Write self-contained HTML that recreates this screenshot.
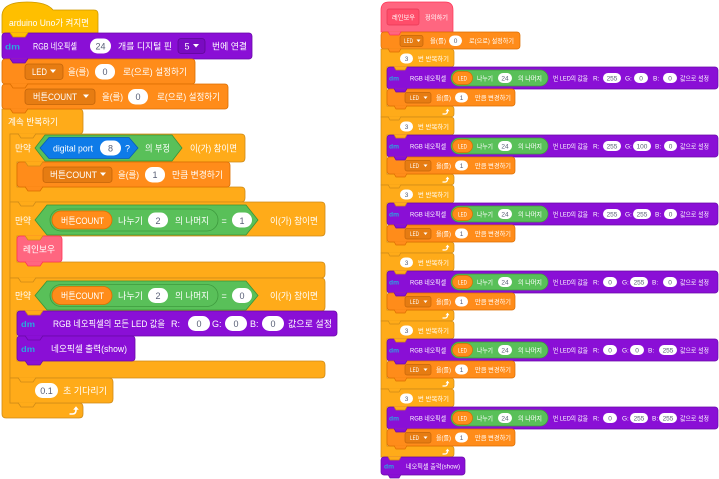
<!DOCTYPE html>
<html><head><meta charset="utf-8">
<style>
html,body{margin:0;padding:0;background:#fff;}
svg{display:block}
text{font-family:"Liberation Sans","Noto Sans CJK KR",sans-serif;fill:#fff;}
.L{font-size:9px}
.R{font-size:6.5px}
.n{fill:#575E75;text-anchor:middle}
.ic{fill:#2aa6de;font-weight:bold}
</style></head><body>
<svg width="719" height="479" viewBox="0 0 719 479" xmlns="http://www.w3.org/2000/svg">
<!-- ================= LEFT BODIES ================= -->
<g stroke-width="0.8">
<path d="M2,109 H79 q4,0 4,4 V130 q0,4 -4,4 H10 V403 H79 q4,0 4,4 V414 q0,4 -4,4 H6 q-4,0 -4,-4 Z" fill="#FFAB19" stroke="#CF8B17"/>
<path d="M10,134 H241 q4,0 4,4 V158 q0,4 -4,4 H17 V187 H241 q4,0 4,4 V198 q0,4 -4,4 H10 Z" fill="#FFAB19" stroke="#CF8B17"/>
<path d="M10,202 H321 q4,0 4,4 V232 q0,4 -4,4 H17 V262 H321 q4,0 4,4 V274 q0,4 -4,4 H10 Z" fill="#FFAB19" stroke="#CF8B17"/>
<path d="M10,278 H321 q4,0 4,4 V307 q0,4 -4,4 H17 V361 H321 q4,0 4,4 V374 q0,4 -4,4 H10 Z" fill="#FFAB19" stroke="#CF8B17"/>
<path d="M10,378 H109 q4,0 4,4 V399 q0,4 -4,4 H10 Z" fill="#FFAB19" stroke="#CF8B17"/>
<path d="M2,33 V16 Q2,2 27,2 Q47,2 53,10 H94 Q98,10 98,14 V33 Z" fill="#FFBF00" stroke="#CC9900"/>
<rect x="2" y="33" width="250" height="26" rx="3" fill="#8A0FD6" stroke="#6A0AA8"/>
<rect x="2" y="59" width="193" height="25" rx="3" fill="#FF8C1A" stroke="#DB6E00"/>
<rect x="2" y="84" width="226" height="25" rx="3" fill="#FF8C1A" stroke="#DB6E00"/>
<rect x="17" y="162" width="213" height="25" rx="3" fill="#FF8C1A" stroke="#DB6E00"/>
<rect x="17" y="236" width="45" height="26" rx="3" fill="#FF6680" stroke="#FF3355"/>
<rect x="17" y="311" width="320" height="25" rx="3" fill="#8A0FD6" stroke="#6A0AA8"/>
<rect x="17" y="336" width="118" height="25" rx="3" fill="#8A0FD6" stroke="#6A0AA8"/>
</g>

<!-- ================= RIGHT BODIES ================= -->
<g stroke-width="0.7">
<path d="M381,32 V10 Q381,2 389,2 H445 Q453,2 453,10 V32 Z" fill="#FF6680" stroke="#FF3355"/>
<rect x="381" y="32" width="139" height="17" rx="3" fill="#FF8C1A" stroke="#DB6E00"/>
<g id="gb">
<path d="M381,49 H450 q4,0 4,3 V64 q0,3 -4,3 H387 V106 H450 q4,0 4,3 V114 q0,3 -4,3 H381 Z" fill="#FFAB19" stroke="#CF8B17"/>
<rect x="387" y="67" width="331" height="22" rx="3" fill="#8A0FD6" stroke="#6A0AA8"/>
<rect x="387" y="89" width="128" height="17" rx="3" fill="#FF8C1A" stroke="#DB6E00"/>
</g>
<use href="#gb" transform="translate(0,68)"/>
<use href="#gb" transform="translate(0,136)"/>
<use href="#gb" transform="translate(0,204)"/>
<use href="#gb" transform="translate(0,272)"/>
<use href="#gb" transform="translate(0,340)"/>
<rect x="381" y="457" width="84" height="18" rx="3" fill="#8A0FD6" stroke="#6A0AA8"/>
</g>

<!-- ================= BUMPS ================= -->
<g stroke-width="0.8">
<path d="M10,32.6 l3,4.4 h12 l3,-4.4" fill="#FFBF00" stroke="#CC9900"/>
<path d="M10,58.6 l3,4.4 h12 l3,-4.4" fill="#8A0FD6" stroke="#6A0AA8"/>
<path d="M10,83.6 l3,4.4 h12 l3,-4.4" fill="#FF8C1A" stroke="#DB6E00"/>
<path d="M10,108.6 l3,4.4 h12 l3,-4.4" fill="#FF8C1A" stroke="#DB6E00"/>
<path d="M18,133.6 l3,4.4 h12 l3,-4.4" fill="#FFAB19" stroke="#CF8B17"/>
<path d="M25,161.6 l3,4.4 h12 l3,-4.4" fill="#FFAB19" stroke="#CF8B17"/>
<path d="M25,186.6 l3,4.4 h12 l3,-4.4" fill="#FF8C1A" stroke="#DB6E00"/>
<path d="M18,201.6 l3,4.4 h12 l3,-4.4" fill="#FFAB19" stroke="#CF8B17"/>
<path d="M25,235.6 l3,4.4 h12 l3,-4.4" fill="#FFAB19" stroke="#CF8B17"/>
<path d="M25,261.6 l3,4.4 h12 l3,-4.4" fill="#FF6680" stroke="#FF3355"/>
<path d="M18,277.6 l3,4.4 h12 l3,-4.4" fill="#FFAB19" stroke="#CF8B17"/>
<path d="M25,310.6 l3,4.4 h12 l3,-4.4" fill="#FFAB19" stroke="#CF8B17"/>
<path d="M25,335.6 l3,4.4 h12 l3,-4.4" fill="#8A0FD6" stroke="#6A0AA8"/>
<path d="M25,360.6 l3,4.4 h12 l3,-4.4" fill="#8A0FD6" stroke="#6A0AA8"/>
<path d="M18,377.6 l3,4.4 h12 l3,-4.4" fill="#FFAB19" stroke="#CF8B17"/>
<path d="M18,402.6 l3,4.4 h12 l3,-4.4" fill="#FFAB19" stroke="#CF8B17"/>
</g>
<g stroke-width="0.7">
<path d="M388,31.6 l2,3.4 h9 l2,-3.4" fill="#FF6680" stroke="#FF3355"/>
<path d="M388,48.6 l2,3.4 h9 l2,-3.4" fill="#FF8C1A" stroke="#DB6E00"/>
<g id="gbump">
<path d="M394,66.6 l2,3.4 h9 l2,-3.4" fill="#FFAB19" stroke="#CF8B17"/>
<path d="M394,88.6 l2,3.4 h9 l2,-3.4" fill="#8A0FD6" stroke="#6A0AA8"/>
<path d="M394,105.6 l2,3.4 h9 l2,-3.4" fill="#FF8C1A" stroke="#DB6E00"/>
<path d="M388,116.6 l2,3.4 h9 l2,-3.4" fill="#FFAB19" stroke="#CF8B17"/>
</g>
<use href="#gbump" transform="translate(0,68)"/>
<use href="#gbump" transform="translate(0,136)"/>
<use href="#gbump" transform="translate(0,204)"/>
<use href="#gbump" transform="translate(0,272)"/>
<use href="#gbump" transform="translate(0,340)"/>
<path d="M388,474.6 l2,3.4 h9 l2,-3.4" fill="#8A0FD6" stroke="#6A0AA8"/>
</g>

<!-- ================= LEFT CONTENTS ================= -->
<text class="L" x="9" y="26" textLength="80" lengthAdjust="spacingAndGlyphs">arduino Uno가 켜지면</text>

<!-- connect -->
<text class="ic" x="5" y="49.5" font-size="8.5" textLength="15" lengthAdjust="spacingAndGlyphs">dm</text>
<text class="L" x="33" y="49.5" textLength="44" lengthAdjust="spacingAndGlyphs">RGB 네오픽셀</text>
<rect x="90" y="38.5" width="21" height="15" rx="7.5" fill="#fff"/>
<text class="L n" x="100.5" y="49.5">24</text>
<text class="L" x="118" y="49.5" textLength="54" lengthAdjust="spacingAndGlyphs">개를 디지털 핀</text>
<rect x="178" y="38.5" width="27" height="15" rx="3" fill="#7A0BC2" stroke="#5E0896" stroke-width="0.8"/>
<text class="L" x="184.5" y="49.5">5</text>
<path d="M193,44 h6 l-3,3.5 Z" fill="#fff"/>
<text class="L" x="212" y="49.5" textLength="35" lengthAdjust="spacingAndGlyphs">번에 연결</text>

<!-- set LED -->
<rect x="25" y="64" width="38" height="15.5" rx="3" fill="#E67C12" stroke="#C4650A" stroke-width="0.8"/>
<text class="L" x="32" y="75" textLength="15" lengthAdjust="spacingAndGlyphs">LED</text>
<path d="M50,69.5 h6 l-3,3.5 Z" fill="#fff"/>
<text class="L" x="68" y="75" textLength="21" lengthAdjust="spacingAndGlyphs">을(를)</text>
<rect x="95" y="64" width="20" height="15.5" rx="7.5" fill="#fff"/>
<text class="L n" x="105" y="75">0</text>
<text class="L" x="123" y="75" textLength="64" lengthAdjust="spacingAndGlyphs">로(으로) 설정하기</text>

<!-- set button -->
<rect x="25" y="89" width="70" height="15.5" rx="3" fill="#E67C12" stroke="#C4650A" stroke-width="0.8"/>
<text class="L" x="33" y="100" textLength="44" lengthAdjust="spacingAndGlyphs">버튼COUNT</text>
<path d="M83,94.5 h6 l-3,3.5 Z" fill="#fff"/>
<text class="L" x="102" y="100" textLength="21" lengthAdjust="spacingAndGlyphs">을(를)</text>
<rect x="128" y="89" width="20" height="15.5" rx="7.5" fill="#fff"/>
<text class="L n" x="138" y="100">0</text>
<text class="L" x="157" y="100" textLength="63" lengthAdjust="spacingAndGlyphs">로(으로) 설정하기</text>

<!-- forever -->
<text class="L" x="8" y="125" textLength="50" lengthAdjust="spacingAndGlyphs">계속 반복하기</text>

<!-- if1 -->
<text class="L" x="15" y="151.5" textLength="16" lengthAdjust="spacingAndGlyphs">만약</text>
<polygon points="35,148 45,135 172,135 182,148 172,161 45,161" fill="#59C059" stroke="#389438" stroke-width="0.8"/>
<polygon points="40,148 49,137.5 129,137.5 138,148 129,158.5 49,158.5" fill="#0E7BE8" stroke="#0A5CB5" stroke-width="0.8"/>
<text class="L" x="53" y="151.5" textLength="40" lengthAdjust="spacingAndGlyphs">digital port</text>
<rect x="100" y="140.5" width="21" height="15" rx="7.5" fill="#fff"/>
<text class="L n" x="110.5" y="151.5">8</text>
<text class="L" x="125" y="151.5">?</text>
<text class="L" x="145" y="151.5" textLength="25" lengthAdjust="spacingAndGlyphs">의 부정</text>
<text class="L" x="190" y="151.5" textLength="47" lengthAdjust="spacingAndGlyphs">이(가) 참이면</text>

<!-- change -->
<rect x="43" y="167" width="69" height="15.5" rx="3" fill="#E67C12" stroke="#C4650A" stroke-width="0.8"/>
<text class="L" x="50" y="178" textLength="47" lengthAdjust="spacingAndGlyphs">버튼COUNT</text>
<path d="M100,172.5 h6 l-3,3.5 Z" fill="#fff"/>
<text class="L" x="118" y="178" textLength="21" lengthAdjust="spacingAndGlyphs">을(를)</text>
<rect x="145" y="167" width="20" height="15.5" rx="7.5" fill="#fff"/>
<text class="L n" x="155" y="178">1</text>
<text class="L" x="172" y="178" textLength="51" lengthAdjust="spacingAndGlyphs">만큼 변경하기</text>

<!-- if2 -->
<text class="L" x="15" y="224" textLength="16" lengthAdjust="spacingAndGlyphs">만약</text>
<polygon points="35,220 47,205 246,205 258,220 246,235 47,235" fill="#59C059" stroke="#389438" stroke-width="0.8"/>
<rect x="50" y="209" width="168" height="22" rx="11" fill="#59C059" stroke="#3E9A3E" stroke-width="0.8"/>
<rect x="52" y="211" width="60" height="18" rx="9" fill="#FF8C1A" stroke="#DB6E00" stroke-width="0.8"/>
<text class="L" x="61" y="224" textLength="43" lengthAdjust="spacingAndGlyphs">버튼COUNT</text>
<text class="L" x="118" y="224" textLength="25" lengthAdjust="spacingAndGlyphs">나누기</text>
<rect x="148" y="212.5" width="20" height="15" rx="7.5" fill="#fff"/>
<text class="L n" x="158" y="224">2</text>
<text class="L" x="175" y="224" textLength="34" lengthAdjust="spacingAndGlyphs">의 나머지</text>
<text class="L" x="221.5" y="224">=</text>
<rect x="232" y="212.5" width="20" height="15" rx="7.5" fill="#fff"/>
<text class="L n" x="242" y="224">1</text>
<text class="L" x="270" y="224" textLength="48" lengthAdjust="spacingAndGlyphs">이(가) 참이면</text>

<!-- rainbow call -->
<text class="L" x="23" y="252.5" textLength="32" lengthAdjust="spacingAndGlyphs">레인보우</text>

<!-- if3 -->
<text class="L" x="15" y="299" textLength="16" lengthAdjust="spacingAndGlyphs">만약</text>
<polygon points="35,295.5 47,281 246,281 258,295.5 246,310 47,310" fill="#59C059" stroke="#389438" stroke-width="0.8"/>
<rect x="50" y="284.5" width="168" height="22" rx="11" fill="#59C059" stroke="#3E9A3E" stroke-width="0.8"/>
<rect x="52" y="286.5" width="60" height="18" rx="9" fill="#FF8C1A" stroke="#DB6E00" stroke-width="0.8"/>
<text class="L" x="61" y="299" textLength="43" lengthAdjust="spacingAndGlyphs">버튼COUNT</text>
<text class="L" x="118" y="299" textLength="25" lengthAdjust="spacingAndGlyphs">나누기</text>
<rect x="148" y="288" width="20" height="15" rx="7.5" fill="#fff"/>
<text class="L n" x="158" y="299">2</text>
<text class="L" x="175" y="299" textLength="34" lengthAdjust="spacingAndGlyphs">의 나머지</text>
<text class="L" x="221.5" y="299">=</text>
<rect x="232" y="288" width="20" height="15" rx="7.5" fill="#fff"/>
<text class="L n" x="242" y="299">0</text>
<text class="L" x="270" y="299" textLength="48" lengthAdjust="spacingAndGlyphs">이(가) 참이면</text>

<!-- set all -->
<text class="ic" x="21" y="327" font-size="8.5" textLength="14" lengthAdjust="spacingAndGlyphs">dm</text>
<text class="L" x="53" y="327" textLength="112" lengthAdjust="spacingAndGlyphs">RGB 네오픽셀의 모든 LED 값을</text>
<text class="L" x="171" y="327">R:</text>
<rect x="188" y="316" width="22" height="15" rx="7.5" fill="#fff"/>
<text class="L n" x="199" y="327">0</text>
<text class="L" x="212" y="327">G:</text>
<rect x="225" y="316" width="22" height="15" rx="7.5" fill="#fff"/>
<text class="L n" x="236" y="327">0</text>
<text class="L" x="250" y="327">B:</text>
<rect x="262" y="316" width="22" height="15" rx="7.5" fill="#fff"/>
<text class="L n" x="273" y="327">0</text>
<text class="L" x="288" y="327" textLength="44" lengthAdjust="spacingAndGlyphs">값으로 설정</text>

<!-- show -->
<text class="ic" x="21" y="352" font-size="8.5" textLength="14" lengthAdjust="spacingAndGlyphs">dm</text>
<text class="L" x="51" y="352" textLength="76" lengthAdjust="spacingAndGlyphs">네오픽셀 출력(show)</text>

<!-- wait -->
<rect x="35" y="383" width="23" height="15" rx="7.5" fill="#fff"/>
<text class="L n" x="46.5" y="394">0.1</text>
<text class="L" x="63" y="394" textLength="44" lengthAdjust="spacingAndGlyphs">초 기다리기</text>

<!-- forever arrow -->
<path d="M69.5,414 h3 q3.5,0 3.5,-4 v-0.5" fill="none" stroke="#fff" stroke-width="1.6"/>
<path d="M73.2,409.8 L76,406.2 L78.8,409.8 Z" fill="#fff"/>

<!-- ================= RIGHT CONTENTS ================= -->
<rect x="387" y="9" width="32" height="16" rx="2" fill="#FF4D6A" stroke="#E63956" stroke-width="0.7"/>
<text class="R" x="392" y="19.5" textLength="23" lengthAdjust="spacingAndGlyphs">레인보우</text>
<text class="R" x="425" y="19.5" textLength="23" lengthAdjust="spacingAndGlyphs">정의하기</text>

<rect x="400" y="35.5" width="23" height="11" rx="2" fill="#E67C12" stroke="#C4650A" stroke-width="0.7"/>
<text class="R" x="404" y="43" textLength="9" lengthAdjust="spacingAndGlyphs">LED</text>
<path d="M416.5,39.5 h4 l-2,2.5 Z" fill="#fff"/>
<text class="R" x="430" y="43" textLength="16" lengthAdjust="spacingAndGlyphs">을(를)</text>
<rect x="449" y="35.5" width="13" height="10.5" rx="5.2" fill="#fff"/>
<text class="R n" x="455.5" y="43">0</text>
<text class="R" x="469" y="43" textLength="45" lengthAdjust="spacingAndGlyphs">로(으로) 설정하기</text>

<g id="gc">
<rect x="400" y="53.5" width="13" height="10" rx="5" fill="#fff"/>
<text class="R n" x="406.5" y="61">3</text>
<text class="R" x="418" y="61" textLength="31" lengthAdjust="spacingAndGlyphs">번 반복하기</text>
<text class="ic" x="389" y="80.5" font-size="6" textLength="10" lengthAdjust="spacingAndGlyphs">dm</text>
<text class="R" x="410" y="80.5" textLength="36" lengthAdjust="spacingAndGlyphs">RGB 네오픽셀</text>
<rect x="451" y="70" width="97" height="16" rx="8" fill="#59C059" stroke="#3E9A3E" stroke-width="0.7"/>
<rect x="452.5" y="71.5" width="20" height="13" rx="6.5" fill="#FF8C1A" stroke="#DB6E00" stroke-width="0.7"/>
<text class="R" x="458" y="80.5" textLength="9" lengthAdjust="spacingAndGlyphs">LED</text>
<text class="R" x="477" y="80.5" textLength="16" lengthAdjust="spacingAndGlyphs">나누기</text>
<rect x="498" y="73" width="14" height="10" rx="5" fill="#fff"/>
<text class="R n" x="505" y="80.5">24</text>
<text class="R" x="518" y="80.5" textLength="24" lengthAdjust="spacingAndGlyphs">의 나머지</text>
<text class="R" x="553" y="80.5" textLength="35" lengthAdjust="spacingAndGlyphs">번 LED의 값을</text>
<text class="R" x="593" y="80.5">R:</text>
<text class="R" x="680" y="80.5" textLength="29" lengthAdjust="spacingAndGlyphs">값으로 설정</text>
<rect x="405" y="92.5" width="26" height="10.5" rx="2" fill="#E67C12" stroke="#C4650A" stroke-width="0.7"/>
<text class="R" x="410" y="100" textLength="9" lengthAdjust="spacingAndGlyphs">LED</text>
<path d="M423.5,96.5 h4 l-2,2.5 Z" fill="#fff"/>
<text class="R" x="436" y="100" textLength="15" lengthAdjust="spacingAndGlyphs">을(를)</text>
<rect x="455" y="92.5" width="13" height="10" rx="5" fill="#fff"/>
<text class="R n" x="461.5" y="100">1</text>
<text class="R" x="475" y="100" textLength="36" lengthAdjust="spacingAndGlyphs">만큼 변경하기</text>
<path d="M442.5,114 h2.5 q2.5,0 2.5,-3" fill="none" stroke="#fff" stroke-width="1.2"/>
<path d="M445.5,111.3 L447.5,108.6 L449.5,111.3 Z" fill="#fff"/>
</g>
<use href="#gc" transform="translate(0,68)"/>
<use href="#gc" transform="translate(0,136)"/>
<use href="#gc" transform="translate(0,204)"/>
<use href="#gc" transform="translate(0,272)"/>
<use href="#gc" transform="translate(0,340)"/>

<!-- per-group RGB values -->
<!-- g1: 255,0,0 (Y=49) -->
<rect x="603" y="73" width="18" height="10" rx="5" fill="#fff"/><text class="R n" x="612" y="80.5">255</text>
<text class="R" x="625" y="80.5">G:</text>
<rect x="634" y="73" width="14" height="10" rx="5" fill="#fff"/><text class="R n" x="641" y="80.5">0</text>
<text class="R" x="653" y="80.5">B:</text>
<rect x="663" y="73" width="14" height="10" rx="5" fill="#fff"/><text class="R n" x="670" y="80.5">0</text>
<!-- g2: 255,100,0 (Y=117) -->
<rect x="603" y="141" width="18" height="10" rx="5" fill="#fff"/><text class="R n" x="612" y="148.5">255</text>
<text class="R" x="625" y="148.5">G:</text>
<rect x="633" y="141" width="18" height="10" rx="5" fill="#fff"/><text class="R n" x="642" y="148.5">100</text>
<text class="R" x="655" y="148.5">B:</text>
<rect x="664" y="141" width="13" height="10" rx="5" fill="#fff"/><text class="R n" x="670.5" y="148.5">0</text>
<!-- g3: 255,255,0 (Y=185) -->
<rect x="603" y="209" width="18" height="10" rx="5" fill="#fff"/><text class="R n" x="612" y="216.5">255</text>
<text class="R" x="625" y="216.5">G:</text>
<rect x="633" y="209" width="18" height="10" rx="5" fill="#fff"/><text class="R n" x="642" y="216.5">255</text>
<text class="R" x="655" y="216.5">B:</text>
<rect x="664" y="209" width="13" height="10" rx="5" fill="#fff"/><text class="R n" x="670.5" y="216.5">0</text>
<!-- g4: 0,255,0 (Y=253) -->
<rect x="603" y="277" width="14" height="10" rx="5" fill="#fff"/><text class="R n" x="610" y="284.5">0</text>
<text class="R" x="622" y="284.5">G:</text>
<rect x="630" y="277" width="18" height="10" rx="5" fill="#fff"/><text class="R n" x="639" y="284.5">255</text>
<text class="R" x="652" y="284.5">B:</text>
<rect x="663" y="277" width="14" height="10" rx="5" fill="#fff"/><text class="R n" x="670" y="284.5">0</text>
<!-- g5: 0,0,255 (Y=321) -->
<rect x="603" y="345" width="14" height="10" rx="5" fill="#fff"/><text class="R n" x="610" y="352.5">0</text>
<text class="R" x="622" y="352.5">G:</text>
<rect x="630" y="345" width="14" height="10" rx="5" fill="#fff"/><text class="R n" x="637" y="352.5">0</text>
<text class="R" x="648" y="352.5">B:</text>
<rect x="659" y="345" width="18" height="10" rx="5" fill="#fff"/><text class="R n" x="668" y="352.5">255</text>
<!-- g6: 0,255,255 (Y=389) -->
<rect x="603" y="413" width="14" height="10" rx="5" fill="#fff"/><text class="R n" x="610" y="420.5">0</text>
<text class="R" x="622" y="420.5">G:</text>
<rect x="630" y="413" width="18" height="10" rx="5" fill="#fff"/><text class="R n" x="639" y="420.5">255</text>
<text class="R" x="652" y="420.5">B:</text>
<rect x="659" y="413" width="18" height="10" rx="5" fill="#fff"/><text class="R n" x="668" y="420.5">255</text>

<!-- show right -->
<text class="ic" x="384" y="468.5" font-size="6" textLength="10" lengthAdjust="spacingAndGlyphs">dm</text>
<text class="R" x="406" y="468.5" textLength="54" lengthAdjust="spacingAndGlyphs">네오픽셀 출력(show)</text>
</svg>
</body></html>
